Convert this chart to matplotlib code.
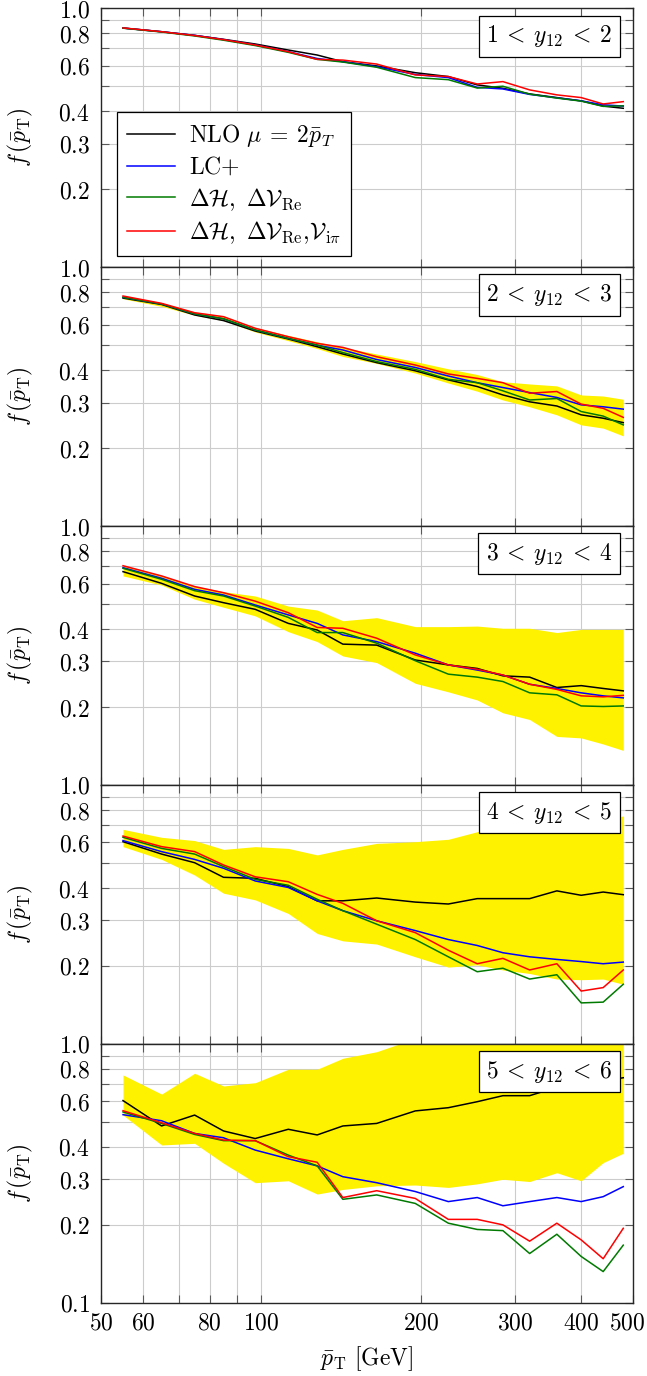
import matplotlib
matplotlib.use("Agg")
import matplotlib.pyplot as plt
import matplotlib.transforms as mtransforms
from matplotlib.ticker import FixedLocator, FixedFormatter, NullFormatter

plt.rcParams["mathtext.fontset"] = "cm"
plt.rcParams["font.family"] = ["DejaVu Serif"]
plt.rcParams["font.size"] = 17

# bin centres of pT-bar (GeV)
pt = [55, 65, 75, 85, 97.5, 112.5, 127.5, 142.5, 165, 195, 225, 255, 285, 320, 360, 400, 440, 480]

# 1 < y12 < 2
nlo_1 = [0.839, 0.812, 0.786, 0.759, 0.728, 0.690, 0.660, 0.622, 0.599, 0.564, 0.545, 0.506, 0.491, 0.467, 0.452, 0.439, 0.419, 0.411]
lc_1 = [0.839, 0.812, 0.786, 0.757, 0.722, 0.680, 0.640, 0.622, 0.595, 0.555, 0.540, 0.495, 0.488, 0.465, 0.451, 0.439, 0.424, 0.419]
vre_1 = [0.838, 0.810, 0.782, 0.753, 0.718, 0.676, 0.635, 0.620, 0.592, 0.540, 0.530, 0.492, 0.500, 0.466, 0.450, 0.438, 0.418, 0.420]
vipi_1 = [0.840, 0.812, 0.785, 0.757, 0.722, 0.680, 0.635, 0.631, 0.609, 0.553, 0.545, 0.510, 0.521, 0.484, 0.463, 0.452, 0.427, 0.436]

# 2 < y12 < 3
nlo_2 = [0.760, 0.718, 0.654, 0.622, 0.567, 0.528, 0.493, 0.462, 0.428, 0.398, 0.367, 0.346, 0.321, 0.302, 0.291, 0.269, 0.261, 0.251]
lc_2 = [0.765, 0.721, 0.660, 0.632, 0.572, 0.531, 0.500, 0.479, 0.440, 0.410, 0.380, 0.358, 0.343, 0.328, 0.314, 0.294, 0.289, 0.283]
vre_2 = [0.765, 0.721, 0.660, 0.632, 0.572, 0.531, 0.500, 0.468, 0.432, 0.403, 0.369, 0.358, 0.333, 0.307, 0.311, 0.277, 0.266, 0.246]
vipi_2 = [0.774, 0.725, 0.667, 0.644, 0.581, 0.539, 0.508, 0.490, 0.451, 0.419, 0.387, 0.372, 0.358, 0.326, 0.331, 0.296, 0.285, 0.263]
band_lo_2 = [0.755, 0.706, 0.652, 0.622, 0.562, 0.520, 0.485, 0.452, 0.425, 0.390, 0.357, 0.332, 0.307, 0.289, 0.269, 0.246, 0.239, 0.223]
band_hi_2 = [0.778, 0.728, 0.672, 0.648, 0.585, 0.545, 0.515, 0.490, 0.462, 0.432, 0.405, 0.385, 0.361, 0.354, 0.348, 0.321, 0.318, 0.309]

# 3 < y12 < 4
nlo_3 = [0.667, 0.601, 0.537, 0.506, 0.477, 0.421, 0.397, 0.350, 0.347, 0.304, 0.291, 0.282, 0.264, 0.261, 0.238, 0.242, 0.236, 0.231]
lc_3 = [0.691, 0.629, 0.570, 0.542, 0.496, 0.454, 0.421, 0.380, 0.358, 0.323, 0.291, 0.278, 0.266, 0.245, 0.236, 0.227, 0.221, 0.217]
vre_3 = [0.687, 0.623, 0.563, 0.537, 0.491, 0.444, 0.388, 0.388, 0.353, 0.302, 0.268, 0.261, 0.251, 0.227, 0.223, 0.202, 0.201, 0.202]
vipi_3 = [0.703, 0.642, 0.584, 0.553, 0.513, 0.463, 0.406, 0.403, 0.369, 0.318, 0.291, 0.280, 0.266, 0.245, 0.234, 0.221, 0.219, 0.222]
band_lo_3 = [0.642, 0.592, 0.522, 0.486, 0.450, 0.391, 0.358, 0.315, 0.297, 0.247, 0.229, 0.213, 0.190, 0.179, 0.154, 0.152, 0.144, 0.136]
band_hi_3 = [0.706, 0.645, 0.587, 0.558, 0.537, 0.491, 0.474, 0.431, 0.443, 0.409, 0.409, 0.411, 0.403, 0.403, 0.388, 0.399, 0.399, 0.399]

# 4 < y12 < 5
nlo_4 = [0.604, 0.541, 0.501, 0.440, 0.436, 0.405, 0.357, 0.357, 0.366, 0.353, 0.347, 0.364, 0.364, 0.364, 0.390, 0.375, 0.386, 0.377]
lc_4 = [0.610, 0.553, 0.516, 0.477, 0.426, 0.402, 0.357, 0.327, 0.299, 0.274, 0.253, 0.240, 0.225, 0.217, 0.212, 0.208, 0.204, 0.207]
vre_4 = [0.628, 0.569, 0.541, 0.484, 0.432, 0.410, 0.362, 0.327, 0.290, 0.253, 0.217, 0.190, 0.196, 0.178, 0.185, 0.144, 0.145, 0.170]
vipi_4 = [0.635, 0.578, 0.553, 0.491, 0.442, 0.423, 0.378, 0.349, 0.299, 0.269, 0.230, 0.204, 0.214, 0.193, 0.204, 0.160, 0.165, 0.193]
band_lo_4 = [0.578, 0.516, 0.449, 0.382, 0.360, 0.319, 0.267, 0.250, 0.243, 0.217, 0.198, 0.202, 0.193, 0.187, 0.178, 0.177, 0.178, 0.170]
band_hi_4 = [0.674, 0.628, 0.610, 0.564, 0.578, 0.569, 0.537, 0.564, 0.595, 0.604, 0.617, 0.660, 0.680, 0.690, 0.701, 0.722, 0.737, 0.759]

# 5 < y12 < 6
nlo_5 = [0.604, 0.482, 0.531, 0.461, 0.431, 0.468, 0.445, 0.482, 0.493, 0.551, 0.567, 0.598, 0.631, 0.631, 0.680, 0.664, 0.720, 0.740]
lc_5 = [0.533, 0.505, 0.451, 0.434, 0.389, 0.360, 0.338, 0.307, 0.291, 0.269, 0.246, 0.255, 0.237, 0.246, 0.255, 0.246, 0.257, 0.281]
vre_5 = [0.546, 0.493, 0.447, 0.423, 0.423, 0.372, 0.338, 0.251, 0.261, 0.242, 0.203, 0.192, 0.190, 0.155, 0.184, 0.151, 0.132, 0.167]
vipi_5 = [0.552, 0.496, 0.451, 0.425, 0.423, 0.367, 0.349, 0.255, 0.271, 0.253, 0.210, 0.210, 0.200, 0.173, 0.203, 0.175, 0.148, 0.194]
band_lo_5 = [0.531, 0.407, 0.413, 0.346, 0.291, 0.296, 0.263, 0.274, 0.283, 0.285, 0.279, 0.288, 0.300, 0.294, 0.318, 0.296, 0.348, 0.378]
band_hi_5 = [0.759, 0.640, 0.770, 0.688, 0.708, 0.798, 0.798, 0.880, 0.933, 1.05, 1.1, 1.1, 1.1, 1.1, 1.1, 1.1, 1.1, 1.1]

bin_labels = [r"$1\:<\:y_{12}\:<\:2$", r"$2\:<\:y_{12}\:<\:3$", r"$3\:<\:y_{12}\:<\:4$",
              r"$4\:<\:y_{12}\:<\:5$", r"$5\:<\:y_{12}\:<\:6$"]
series_labels = [r"$\mathrm{NLO}\ \mu\:=\:2\bar{p}_T$", r"$\mathrm{LC}{+}$",
                 r"$\Delta\mathcal{H},\ \Delta\mathcal{V}_{\mathrm{Re}}$",
                 r"$\Delta\mathcal{H},\ \Delta\mathcal{V}_{\mathrm{Re}},\!\mathcal{V}_{\mathrm{i}\pi}$"]
series_colors = ["black", "#0000ff", "#007a00", "#ff0000"]

x_major = [50, 60, 80, 100, 200, 300, 400, 500]
x_minor = [70, 90]
y_major = [0.1, 0.2, 0.3, 0.4, 0.6, 0.8, 1.0]
y_minor = [0.5, 0.7, 0.9]

panels = [
    ([nlo_1, lc_1, vre_1, vipi_1], None, None),
    ([nlo_2, lc_2, vre_2, vipi_2], band_lo_2, band_hi_2),
    ([nlo_3, lc_3, vre_3, vipi_3], band_lo_3, band_hi_3),
    ([nlo_4, lc_4, vre_4, vipi_4], band_lo_4, band_hi_4),
    ([nlo_5, lc_5, vre_5, vipi_5], band_lo_5, band_hi_5),
]

W, H = 647, 1376
left, right, top, ph = 101, 632.7, 8.3, 258.9

fig = plt.figure(figsize=(W / 100, H / 100), dpi=100)

for k, (lines, lo, hi) in enumerate(panels):
    last = k == len(panels) - 1
    ax = fig.add_axes([left / W, (H - top - (k + 1) * ph) / H, (right - left) / W, ph / H])
    ax.set_xscale("log")
    ax.set_yscale("log")

    if lo is not None:
        ax.fill_between(pt, lo, hi, color="#fff200", lw=0, zorder=1)
    for ys, c, lab in zip(lines, series_colors, series_labels):
        ax.plot(pt, ys, color=c, lw=1.1, label=lab, zorder=2)

    ax.set_xlim(50, 500)
    ax.set_ylim(0.1, 1.0)

    ax.xaxis.set_major_locator(FixedLocator(x_major))
    ax.xaxis.set_major_formatter(FixedFormatter([f"${v}$" for v in x_major]))
    ax.xaxis.set_minor_locator(FixedLocator(x_minor))
    ax.xaxis.set_minor_formatter(NullFormatter())
    ax.yaxis.set_major_locator(FixedLocator(y_major))
    ylabs = [f"${v:.1f}$" for v in y_major]
    if not last:
        ylabs[0] = ""
    ax.yaxis.set_major_formatter(FixedFormatter(ylabs))
    ax.yaxis.set_minor_locator(FixedLocator(y_minor))
    ax.yaxis.set_minor_formatter(NullFormatter())

    ax.set_axisbelow(True)
    ax.grid(True, which="both", color="#cccccc", lw=0.8)
    ax.tick_params(which="both", direction="in", top=True, right=True,
                   length=6, width=0.8, color="0.35")
    ax.tick_params(axis="y", pad=8)
    ax.tick_params(axis="x", pad=6, labelbottom=last)
    for sp in ax.spines.values():
        sp.set_color("0.15")
        sp.set_linewidth(1.0)

    ax.text(0.961, 0.943, bin_labels[k], transform=ax.transAxes, ha="right", va="top",
            bbox=dict(boxstyle="square,pad=0.32", fc="white", ec="black", lw=0.9), zorder=6)

    ax.set_ylabel(r"$f\,(\bar{p}_{\mathrm{T}})$")
    ax.yaxis.set_label_coords(-0.125, 0.5)

    if k == 0:
        leg = ax.legend(loc="upper left", bbox_to_anchor=(0.031, 0.600), borderaxespad=0,
                        fancybox=False, framealpha=1, edgecolor="black",
                        handlelength=2.0, handletextpad=0.6, labelspacing=0.3, borderpad=0.42)
        leg.get_frame().set_linewidth(0.9)
    if last:
        ax.set_xlabel(r"$\bar{p}_{\mathrm{T}}\ [\mathrm{GeV}]$")
        ax.xaxis.set_label_coords(0.5, -0.16)
        # keep the "500" label inside the figure, as in the reference
        t500 = ax.xaxis.get_major_ticks()[-1].label1
        t500.set_transform(t500.get_transform()
                           + mtransforms.ScaledTranslation(-4 / 72, 0, fig.dpi_scale_trans))

fig.savefig("out.png", dpi=100)
